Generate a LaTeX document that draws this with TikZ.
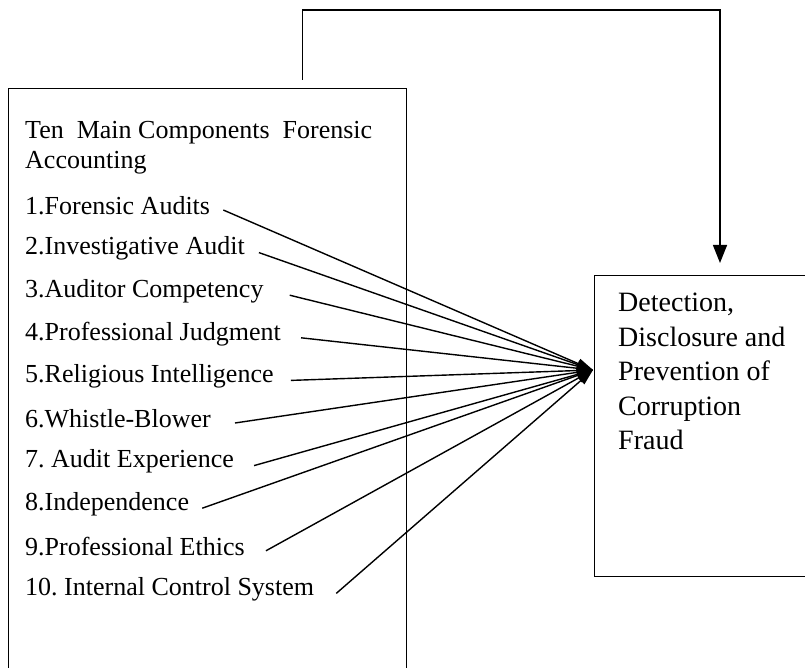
\documentclass[tikz,border=0pt]{standalone}
\usepackage{fontspec}
\setmainfont{Liberation Serif}
\usetikzlibrary{arrows.meta}
\frenchspacing

\tikzset{
  box/.style={draw, line width=1.4pt, anchor=north west, inner sep=0pt},
  item/.style={anchor=west, inner sep=0pt, font=\fontsize{26}{30}\selectfont},
  link/.style={line width=1.4pt, -{Triangle[length=16pt,width=10pt]}},
}

\begin{document}
\begin{tikzpicture}[x=1pt, y=-1pt]
\clip (0,0) rectangle (805,668);

% === Components box ===
\node[box, minimum width=398pt, minimum height=620pt] (comp) at (8,88) {};
\node[item, align=left] (title) at (25,148)
  {Ten\ \ Main Components\ \ Forensic\\Accounting};

\foreach \txt [count=\i] in {1.Forensic Audits, 2.Investigative Audit,
    3.Auditor Competency, 4.Professional Judgment, 5.Religious Intelligence,
    6.Whistle-Blower, 7. Audit Experience, 8.Independence,
    9.Professional Ethics, 10. Internal Control System}
  \node[item] (c\i) at (25,{206+(\i-1)*42.6}) {\txt};

% === Outcome box ===
\node[box, minimum width=240pt, minimum height=301pt] (outcome) at (594,275) {};
\node[anchor=north west, align=left, inner sep=0pt,
      font=\fontsize{28}{34.5}\selectfont] (outtext) at (618,293)
  {Detection,\\Disclosure and\\Prevention of\\Corruption\\Fraud};

% === Arrows into the outcome ===
\coordinate (tip) at (593,370);
\foreach \i/\gap in {1/13, 2/14, 3/26, 4/20, 5/17, 6/24, 7/20, 8/13, 9/21, 10/22}
  \draw[link] ([xshift=\gap pt,yshift=-4pt]c\i.east) -- (tip);

% === Feedback line ===
\coordinate (bend) at (720,10);
\draw[line width=1.4pt, -{Triangle[length=18pt,width=14pt]}]
  ([xshift=-105pt,yshift=8pt]comp.north east) |- (bend)
  -- ([yshift=12pt]bend |- outcome.north);

\end{tikzpicture}
\end{document}
